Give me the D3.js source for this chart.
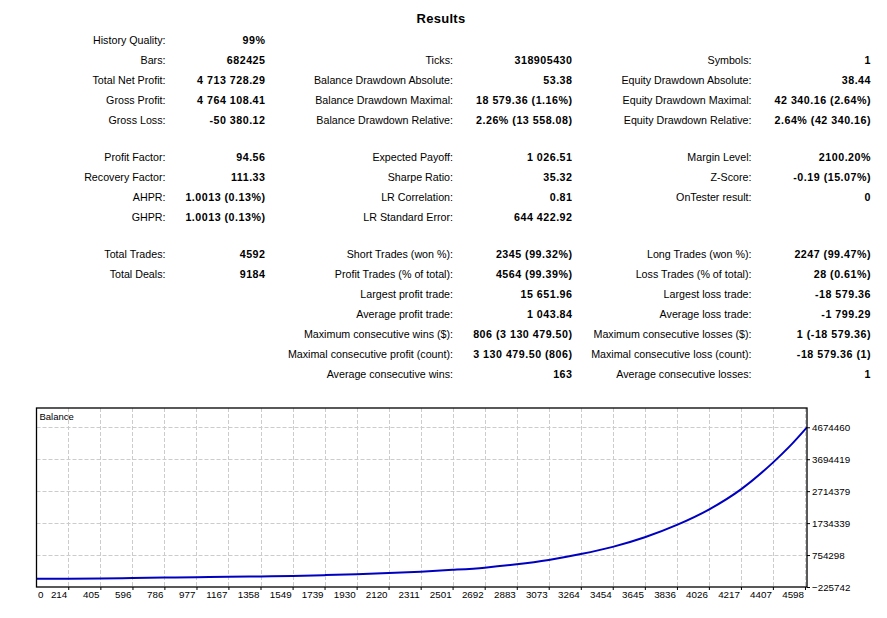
<!DOCTYPE html>
<html>
<head>
<meta charset="utf-8">
<script src="https://cdn.jsdelivr.net/npm/d3@7"></script>
<style>
  body { margin: 0; background: #fff; }
  svg { display: block; font-family: "Liberation Sans", Arial, sans-serif; }
  .lbl { font-size: 10.7px; fill: #000; }
  .val { font-size: 10.7px; font-weight: bold; fill: #000; letter-spacing: 0.5px; }
  .axis text { font-size: 9.8px; fill: #000; font-family: "Liberation Sans", Arial, sans-serif; }
  .axis path { display: none; }
  .axis line { stroke: #000; }
</style>
</head>
<body>
<svg id="report" width="887" height="618"></svg>
<script>
// report table, one entry per row, '' = empty cell
var col1Labels = ['History Quality:', 'Bars:', 'Total Net Profit:', 'Gross Profit:', 'Gross Loss:',
  'Profit Factor:', 'Recovery Factor:', 'AHPR:', 'GHPR:',
  'Total Trades:', 'Total Deals:', '', '', '', '', ''];
var col1Values = ['99%', '682425', '4 713 728.29', '4 764 108.41', '-50 380.12',
  '94.56', '111.33', '1.0013 (0.13%)', '1.0013 (0.13%)',
  '4592', '9184', '', '', '', '', ''];
var col2Labels = ['', 'Ticks:', 'Balance Drawdown Absolute:', 'Balance Drawdown Maximal:', 'Balance Drawdown Relative:',
  'Expected Payoff:', 'Sharpe Ratio:', 'LR Correlation:', 'LR Standard Error:',
  'Short Trades (won %):', 'Profit Trades (% of total):', 'Largest profit trade:', 'Average profit trade:',
  'Maximum consecutive wins ($):', 'Maximal consecutive profit (count):', 'Average consecutive wins:'];
var col2Values = ['', '318905430', '53.38', '18 579.36 (1.16%)', '2.26% (13 558.08)',
  '1 026.51', '35.32', '0.81', '644 422.92',
  '2345 (99.32%)', '4564 (99.39%)', '15 651.96', '1 043.84',
  '806 (3 130 479.50)', '3 130 479.50 (806)', '163'];
var col3Labels = ['', 'Symbols:', 'Equity Drawdown Absolute:', 'Equity Drawdown Maximal:', 'Equity Drawdown Relative:',
  'Margin Level:', 'Z-Score:', 'OnTester result:', '',
  'Long Trades (won %):', 'Loss Trades (% of total):', 'Largest loss trade:', 'Average loss trade:',
  'Maximum consecutive losses ($):', 'Maximal consecutive loss (count):', 'Average consecutive losses:'];
var col3Values = ['', '1', '38.44', '42 340.16 (2.64%)', '2.64% (42 340.16)',
  '2100.20%', '-0.19 (15.07%)', '0', '',
  '2247 (99.47%)', '28 (0.61%)', '-18 579.36', '-1 799.29',
  '1 (-18 579.36)', '-18 579.36 (1)', '1'];
var rowGroups = [0, 0, 0, 0, 0, 1, 1, 1, 1, 2, 2, 2, 2, 2, 2, 2];

// balance curve
var trades   = [0, 214, 405, 596, 786, 977, 1167, 1358, 1549, 1739, 1930, 2120, 2311, 2501,
  2692, 2883, 3073, 3264, 3454, 3645, 3836, 4026, 4217, 4407, 4505, 4610];
var balances = [25000, 30000, 38000, 50000, 62000, 74000, 85000, 100000, 115000, 138000, 165000, 200000, 245000, 300000,
  368000, 470000, 605000, 785000, 1005000, 1300000, 1680000, 2150000, 2770000, 3590000, 4080000, 4674460];

var xTicks = [0, 214, 405, 596, 786, 977, 1167, 1358, 1549, 1739, 1930, 2120, 2311, 2501,
  2692, 2883, 3073, 3264, 3454, 3645, 3836, 4026, 4217, 4407, 4598];
var yTicks = [-225742, 754298, 1734339, 2714379, 3694419, 4674460];

var svg = d3.select('#report');

svg.append('text')
  .attr('x', 441).attr('y', 18).attr('dy', '0.35em')
  .attr('text-anchor', 'middle')
  .style('font-size', '13px').style('font-weight', 'bold').style('letter-spacing', '0.3px')
  .text('Results');

// ---- table
var rowY = function(i) { return 40.5 + i * 20 + rowGroups[i] * 17; };

var columns = [
  {labels: col1Labels, values: col1Values, labelX: 165.5, valueX: 265.5},
  {labels: col2Labels, values: col2Values, labelX: 453, valueX: 572.5},
  {labels: col3Labels, values: col3Values, labelX: 751.5, valueX: 871}
];

columns.forEach(function(c) {
  var g = svg.append('g');
  g.selectAll('text.lbl')
    .data(c.labels)
    .enter().append('text')
      .attr('class', 'lbl')
      .attr('x', c.labelX)
      .attr('y', function(d, i) { return rowY(i); })
      .attr('dy', '0.35em')
      .attr('text-anchor', 'end')
      .text(function(d) { return d; });
  g.selectAll('text.val')
    .data(c.values)
    .enter().append('text')
      .attr('class', 'val')
      .attr('x', c.valueX)
      .attr('y', function(d, i) { return rowY(i); })
      .attr('dy', '0.35em')
      .attr('text-anchor', 'end')
      .text(function(d) { return d; });
});

// ---- balance chart
var plotLeft = 36.5, plotRight = 807, plotTop = 408, plotBottom = 587;

var x = d3.scaleLinear()
  .domain([25, 4610])
  .range([plotLeft, plotRight]);

var y = d3.scaleLinear()
  .domain([-225742, 5266000])
  .range([plotBottom, plotTop]);

var chart = svg.append('g');

chart.append('clipPath').attr('id', 'plotclip')
  .append('rect')
    .attr('x', plotLeft).attr('y', plotTop)
    .attr('width', plotRight - plotLeft).attr('height', plotBottom - plotTop);

// grid
chart.append('g')
  .selectAll('line')
  .data(yTicks.slice(1))
  .enter().append('line')
    .attr('x1', plotLeft).attr('x2', plotRight)
    .attr('y1', function(d) { return Math.round(y(d)) + 0.5; })
    .attr('y2', function(d) { return Math.round(y(d)) + 0.5; })
    .attr('stroke', '#cccccc')
    .attr('stroke-dasharray', '4,2');

chart.append('g')
  .selectAll('line')
  .data(xTicks.slice(1))
  .enter().append('line')
    .attr('x1', function(d) { return Math.round(x(d)) + 0.5; })
    .attr('x2', function(d) { return Math.round(x(d)) + 0.5; })
    .attr('y1', plotTop).attr('y2', plotBottom)
    .attr('stroke', '#cccccc')
    .attr('stroke-dasharray', '4,2');

chart.append('text')
  .attr('x', plotLeft + 3).attr('y', plotTop + 8.5).attr('dy', '0.35em')
  .style('font-size', '9.5px')
  .text('Balance');

var balanceLine = d3.line()
  .x(function(d, i) { return x(trades[i]); })
  .y(function(d) { return y(d); })
  .curve(d3.curveMonotoneX);

chart.append('path')
  .datum(balances)
  .attr('clip-path', 'url(#plotclip)')
  .attr('d', balanceLine)
  .attr('fill', 'none')
  .attr('stroke', '#0000c0')
  .attr('stroke-width', 2);

chart.append('rect')
  .attr('x', plotLeft).attr('y', plotTop)
  .attr('width', plotRight - plotLeft).attr('height', plotBottom - plotTop)
  .attr('fill', 'none')
  .attr('stroke', '#000')
  .attr('stroke-width', 1.3);

// axes
var xAxis = chart.append('g')
  .attr('class', 'axis')
  .attr('transform', 'translate(0,' + plotBottom + ')')
  .call(d3.axisBottom(x).tickValues(xTicks).tickSize(3).tickPadding(1.5).tickFormat(d3.format('d')));

xAxis.selectAll('.tick text')
  .attr('text-anchor', 'end')
  .attr('x', -1.5);
xAxis.selectAll('.tick')
  .filter(function(d) { return d === 0; })
  .each(function() {
    d3.select(this).select('line').remove();
    d3.select(this).select('text').attr('text-anchor', 'start').attr('x', 5.3);
  });

chart.append('g')
  .attr('class', 'axis')
  .attr('transform', 'translate(' + plotRight + ',0)')
  .call(d3.axisRight(y).tickValues(yTicks).tickSize(3).tickPadding(2).tickFormat(d3.format('d')));
</script>
</body>
</html>
